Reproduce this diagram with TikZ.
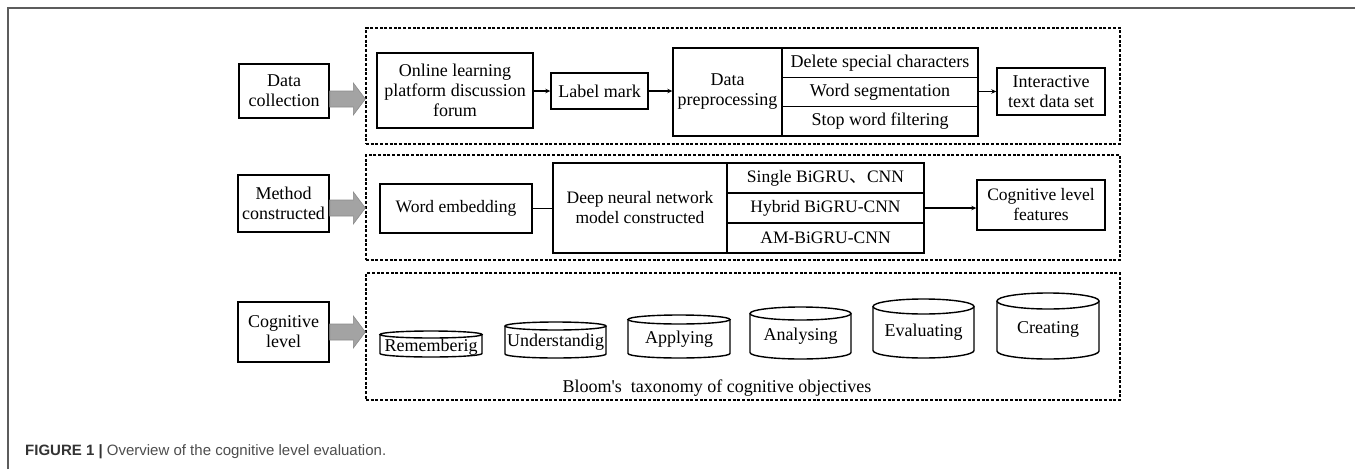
\documentclass[tikz,border=0pt]{standalone}
\usepackage{fontspec}
\setmainfont{Liberation Serif}
\newfontfamily\capfont{Liberation Sans}
\newfontfamily\cjkfont{Noto Sans CJK SC}
\usetikzlibrary{calc,arrows.meta}
\definecolor{fatgray}{HTML}{A3A3A3}
\definecolor{fatedge}{HTML}{8A8A8A}
\definecolor{framegray}{HTML}{5C5C5C}
\definecolor{capdark}{HTML}{333333}
\definecolor{captext}{HTML}{4D4D4D}

% thick grey block arrow from a stage label to its dashed group
\newcommand\fatarrow[3]{%
  \path (#1.east |- 0,#3) coordinate (fa-s) (#2.west |- 0,#3) coordinate (fa-e);
  \filldraw[fat] ($(fa-s)+(0,-8)$) -- ($(fa-e)+(-12,-8)$) -- ($(fa-e)+(-12,-16)$)
    -- (fa-e) -- ($(fa-e)+(-12,16)$) -- ($(fa-e)+(-12,8)$) -- ($(fa-s)+(0,8)$) -- cycle;}

\begin{document}
\begin{tikzpicture}[x=1pt,y=-1pt,
  font=\fontsize{18}{20}\selectfont,
  box/.style={draw, line width=1.4pt, inner sep=0pt, align=center},
  rowtwo/.style={font=\fontsize{17.5}{20}\selectfont},
  group/.style={draw, line width=1.3pt, dash pattern=on 3pt off 1.7pt, inner sep=0pt},
  arr/.style={line width=1.2pt, -{Stealth[length=5pt,width=4.5pt]}},
  link/.style={line width=1.4pt},
  fat/.style={fill=fatgray, draw=fatedge, line width=0.6pt},
  cyl/.style={line width=1.4pt},
  cyltext/.style={inner sep=0pt},
  frame/.style={draw=framegray, line width=1.6pt}]
\useasboundingbox (0,0) rectangle (1355,469);

% page frame
\draw[frame] (8,469) -- (8,8) -- (1355,8);

% ---- data collection ----
\node[box, minimum width=90pt, minimum height=54pt] (dc) at (284,91) {Data\\collection};
\node[group, minimum width=754pt, minimum height=116pt] (r1) at (743,86) {};
\node[box, minimum width=156pt, minimum height=75pt] (olp) at (455,90.5) {Online learning\\platform discussion\\forum};
\node[box, minimum width=97pt, minimum height=36pt] (lm) at (599.5,91) {Label mark};
\node[box, minimum width=109pt, minimum height=88pt] (dp) at (727.5,92) {Data\\preprocessing};
\node[box, minimum width=196pt, minimum height=29.33pt] (dp1) at (880,62.67) {Delete special characters};
\node[box, minimum width=196pt, minimum height=29.33pt] (dp2) at (880,92) {Word segmentation};
\node[box, minimum width=196pt, minimum height=29.33pt] (dp3) at (880,121.33) {Stop word filtering};
\node[box, minimum width=108pt, minimum height=47pt] (itd) at (1051,91.5) {Interactive\\text data set};

\fatarrow{dc}{r1}{99}
\draw[arr] (olp.east |- lm.west) -- (lm.west);
\draw[arr] (lm.east) -- (lm.east -| dp.west);
\draw[arr] (dp2.east |- itd.west) -- (itd.west);

% ---- method constructed ----
\node[box, minimum width=91pt, minimum height=57pt] (mc) at (283.5,203.5) {Method\\constructed};
\node[group, minimum width=754pt, minimum height=105pt] (r2) at (743,207.5) {};
\node[box, rowtwo, minimum width=152pt, minimum height=49pt] (we) at (456,208.5) {Word embedding};
\node[box, rowtwo, minimum width=174pt, minimum height=90pt] (dnn) at (640,208) {Deep neural network\\model constructed};
\node[box, rowtwo, minimum width=197pt, minimum height=30pt] (m1) at (825.5,178) {Single BiGRU{\cjkfont 、}CNN};
\node[box, rowtwo, minimum width=197pt, minimum height=30pt] (m2) at (825.5,208) {Hybrid BiGRU-CNN};
\node[box, rowtwo, minimum width=197pt, minimum height=30pt] (m3) at (825.5,238) {AM-BiGRU-CNN};
\node[box, rowtwo, minimum width=128pt, minimum height=50pt] (clf) at (1041,205) {Cognitive level\\features};

\fatarrow{mc}{r2}{208}
\draw[link] (we.east) -- (we.east -| dnn.west);
\draw[arr] (m2.east) -- (m2.east -| clf.west);

% ---- cognitive level ----
\node[box, minimum width=91pt, minimum height=60pt] (cl) at (283.5,332) {Cognitive\\level};
\node[group, minimum width=754pt, minimum height=127pt] (r3) at (743,336.5) {};
\fatarrow{cl}{r3}{332}

\foreach \L/\R/\T/\B/\ry/\ty/\lab/\nm in {
    380/482/331/357/3.5/347/Rememberig/cy1,
    505/606/322/358/4/342/Understandig/cy2,
    628/730/315/358/4.5/339/Applying/cy3,
    750/851/307/359/6.5/336/Analysing/cy4,
    873/974/299/358/7.5/332/Evaluating/cy5,
    997/1099/293/359/8/329/Creating/cy6}{
  \pgfmathsetmacro\cx{(\L+\R)/2}
  \pgfmathsetmacro\rx{(\R-\L)/2}
  \draw[cyl] (\cx,\T+\ry) ellipse [x radius=\rx pt, y radius=\ry pt];
  \draw[cyl] (\L,\T+\ry) -- (\L,\B-\ry)
    arc[start angle=180, end angle=360, x radius=\rx pt, y radius=\ry pt] -- (\R,\T+\ry);
  \node[cyltext] (\nm) at (\cx,\ty) {\lab};
}
\node[inner sep=0pt] (bloom) at (717,388) {Bloom\textquotesingle s\ \ taxonomy of cognitive objectives};

% caption
\node[anchor=base west, inner sep=0pt, font=\capfont\fontsize{15}{18}\selectfont] (cap) at (25,455)
  {\textcolor{capdark}{\bfseries FIGURE 1 |} \textcolor{captext}{Overview of the cognitive level evaluation.}};
\end{tikzpicture}
\end{document}
